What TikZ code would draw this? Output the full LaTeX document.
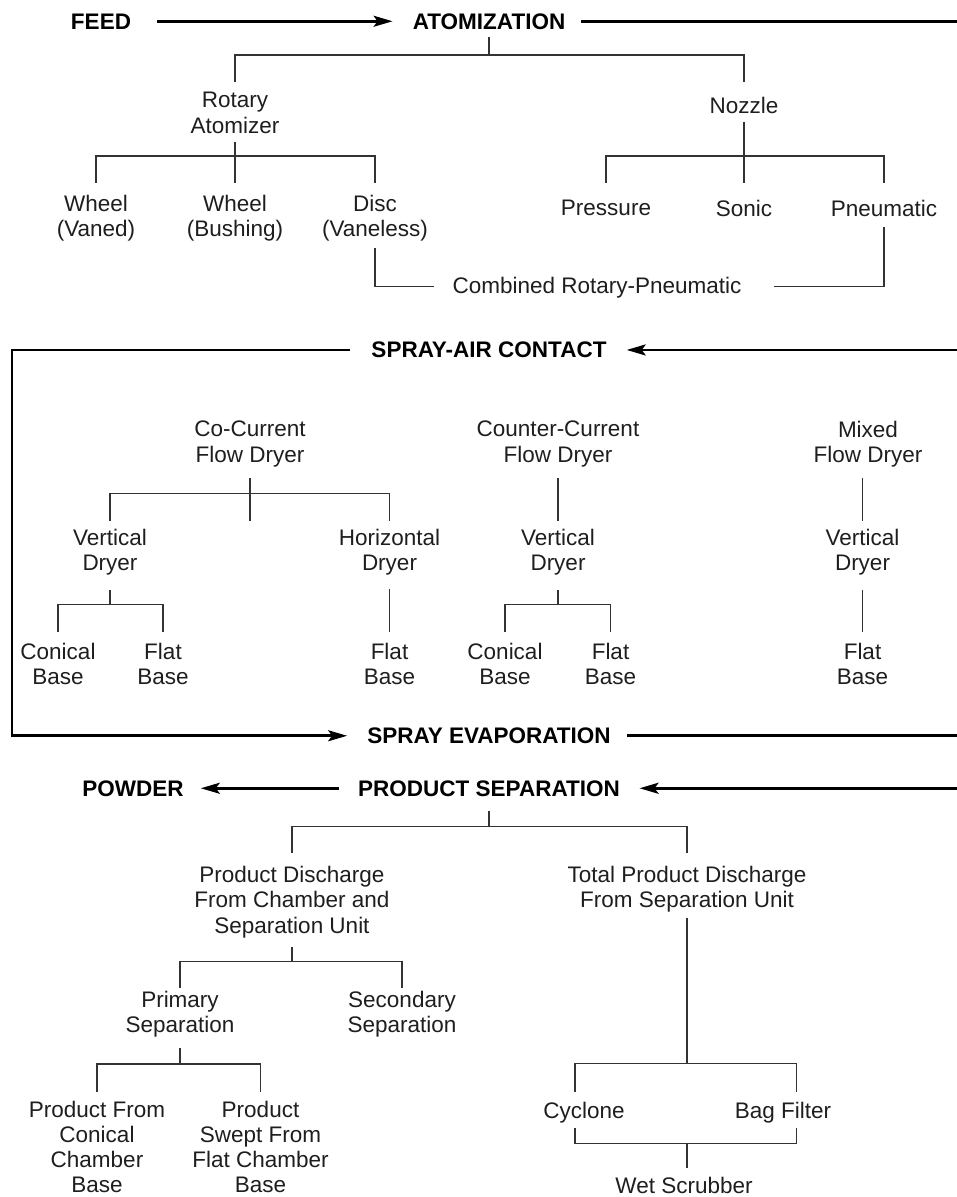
\documentclass[tikz,border=0pt]{standalone}
\usepackage{fontspec}
\setmainfont{Liberation Sans}
\usetikzlibrary{arrows.meta}
\definecolor{ink}{HTML}{1E1E1E}
\definecolor{treeline}{HTML}{333333}
\begin{document}
\begin{tikzpicture}[x=1pt,y=-1pt,
  lab/.style={font=\fontsize{22.5}{25.5}\selectfont, align=center, inner sep=0pt, anchor=north, text=ink},
  head/.style={font=\bfseries\fontsize{22.5}{25.5}\selectfont, inner sep=0pt, anchor=base, text=black},
  flow/.style={line width=2.6pt, draw=black},
  tip/.style={-{Stealth[length=19pt,width=11pt,inset=4pt]}},
  tree/.style={line width=1.4pt, draw=treeline}]
\useasboundingbox (0,0) rectangle (957,1197);
\clip (0,0) rectangle (957,1197);

% headings
\node[head] (feed)   at (101,29)    {FEED};
\node[head] (atom)   at (489,29)    {ATOMIZATION};
\node[head] (sac)    at (489,357.7) {SPRAY-AIR CONTACT};
\node[head] (sev)    at (489,743.5) {SPRAY EVAPORATION};
\node[head] (psep)   at (489,796)   {PRODUCT SEPARATION};
\node[head] (powder) at (133,796)   {POWDER};

% atomization tree
\node[lab] (rot)  at (235,92.2)  {Rotary\\Atomizer};
\node[lab] (noz)  at (744,97.2)  {Nozzle};
\node[lab] (wv)   at (96,194.9)  {Wheel\\(Vaned)};
\node[lab] (wb)   at (235,194.9) {Wheel\\(Bushing)};
\node[lab] (disc) at (375,194.9) {Disc\\(Vaneless)};
\node[lab] (pres) at (606,199.9) {Pressure};
\node[lab] (son)  at (744,199.9) {Sonic};
\node[lab] (pneu) at (884,199.9) {Pneumatic};
\node[lab] (comb) at (597,276.9) {Combined Rotary-Pneumatic};

% spray-air contact tree
\node[lab] (cocur) at (250,420.6)   {Co-Current\\Flow Dryer};
\node[lab] (ctcur) at (558,420.6)   {Counter-Current\\Flow Dryer};
\node[lab] (mixed) at (868,420.6)   {Mixed\\Flow Dryer};
\node[lab] (vd1)   at (110,528.9)   {Vertical\\Dryer};
\node[lab] (hd)    at (389.5,528.9) {Horizontal\\Dryer};
\node[lab] (vd2)   at (558,528.9)   {Vertical\\Dryer};
\node[lab] (vd3)   at (862.5,528.9) {Vertical\\Dryer};
\node[lab] (cb1)   at (58,642.9)    {Conical\\Base};
\node[lab] (fb1)   at (163,642.9)   {Flat\\Base};
\node[lab] (fb2)   at (389.5,642.9) {Flat\\Base};
\node[lab] (cb2)   at (505,642.9)   {Conical\\Base};
\node[lab] (fb3)   at (610.5,642.9) {Flat\\Base};
\node[lab] (fb4)   at (862.5,642.9) {Flat\\Base};

% product separation tree
\node[lab] (pd)   at (292,865.6)  {Product Discharge\\From Chamber and\\Separation Unit};
\node[lab] (tpd)  at (687,865.6)  {Total Product Discharge\\From Separation Unit};
\node[lab] (prim) at (180,990.6)  {Primary\\Separation};
\node[lab] (sec)  at (402,990.6)  {Secondary\\Separation};
\node[lab, font=\fontsize{22.5}{25}\selectfont] (pfc)  at (97,1101.2)  {Product From\\Conical\\Chamber\\Base};
\node[lab, font=\fontsize{22.5}{25}\selectfont] (psf)  at (260.5,1101.2) {Product\\Swept From\\Flat Chamber\\Base};
\node[lab] (cyc)  at (584,1102.2) {Cyclone};
\node[lab] (bag)  at (783,1102.2) {Bag Filter};
\node[lab] (wet)  at (684,1177.4) {Wet Scrubber};

% free ends
\coordinate (combL) at (433.5,286.7);
\coordinate (combR) at (774,286.7);
\coordinate (cycT) at (575,1091.7);
\coordinate (bagT) at (796.7,1091.7);
\coordinate (cycB) at (575,1128.3);
\coordinate (bagB) at (796.7,1128.3);

% main flow
\draw[flow, tip, shorten <=26pt, shorten >=20pt] (feed.east) -- (feed.east -| atom.west);
\draw[flow, tip, shorten <=16pt, shorten >=20pt] (atom.east) -- (atom.east -| 962,0) |- (sac.east);
\draw[flow, tip, shorten <=21pt, shorten >=20pt] (sac.west) -- (sac.west -| 12,0) |- (sev.west);
\draw[flow, tip, shorten <=16.5pt, shorten >=19.5pt] (sev.east) -- (sev.east -| 962,0) |- (psep.east);
\draw[flow, tip, shorten <=18.5pt, shorten >=17pt] (psep.west) -- (psep.west -| powder.east);

% atomization tree lines
\draw[tree] (atom.south |- 0,36.7) -- (atom.south |- 0,55) -| (rot.north |- 0,81.7);
\draw[tree] (atom.south |- 0,55) -| (noz.north |- 0,81.7);
\draw[tree] (rot.south |- 0,141.7) -- (wb.north |- 0,183.3);
\draw[tree] (rot.south |- 0,156) -| (wv.north |- 0,183.3);
\draw[tree] (rot.south |- 0,156) -| (disc.north |- 0,183.3);
\draw[tree] (noz.south |- 0,121.7) -- (son.north |- 0,183.3);
\draw[tree] (noz.south |- 0,156) -| (pres.north |- 0,183.3);
\draw[tree] (noz.south |- 0,156) -| (pneu.north |- 0,183.3);
\draw[tree] (disc.south |- 0,248.3) |- (combL);
\draw[tree] (pneu.south |- 0,226.7) |- (combR);

% spray-air contact tree lines
\draw[tree] (cocur.south |- 0,478.3) -- (cocur.south |- 0,520.7);
\draw[tree] (cocur.south |- 0,493.3) -| (vd1.north |- 0,520.7);
\draw[tree] (cocur.south |- 0,493.3) -| (hd.north |- 0,520.7);
\draw[tree] (ctcur.south |- 0,478.3) -- (vd2.north |- 0,520.7);
\draw[tree] (vd3.north |- 0,478.3) -- (vd3.north |- 0,520.7);
\draw[tree] (vd1.south |- 0,590) -- (vd1.south |- 0,604.3) -| (cb1.north |- 0,631.7);
\draw[tree] (vd1.south |- 0,604.3) -| (fb1.north |- 0,631.7);
\draw[tree] (hd.south |- 0,589) -- (fb2.north |- 0,631.7);
\draw[tree] (vd2.south |- 0,590) -- (vd2.south |- 0,604.3) -| (cb2.north |- 0,631.7);
\draw[tree] (vd2.south |- 0,604.3) -| (fb3.north |- 0,631.7);
\draw[tree] (vd3.south |- 0,590) -- (fb4.north |- 0,631.7);

% product separation tree lines
\draw[tree] (psep.south |- 0,810.7) -- (psep.south |- 0,826.7) -| (pd.north |- 0,853.3);
\draw[tree] (psep.south |- 0,826.7) -| (tpd.north |- 0,853.3);
\draw[tree] (pd.south |- 0,946.7) -- (pd.south |- 0,961.7) -| (prim.north |- 0,988.3);
\draw[tree] (pd.south |- 0,961.7) -| (sec.north |- 0,988.3);
\draw[tree] (prim.south |- 0,1048.3) -- (prim.south |- 0,1064) -| (pfc.north |- 0,1091.7);
\draw[tree] (prim.south |- 0,1064) -| (psf.north |- 0,1091.7);
\draw[tree] (tpd.south |- 0,918.3) -- (tpd.south |- 0,1063.3) -| (cycT);
\draw[tree] (tpd.south |- 0,1063.3) -| (bagT);
\draw[tree] (cycB) |- (bagB |- 0,1143.3) -- (bagB);
\draw[tree] (tpd.south |- 0,1143.3) -- (tpd.south |- 0,1168);
\end{tikzpicture}
\end{document}
